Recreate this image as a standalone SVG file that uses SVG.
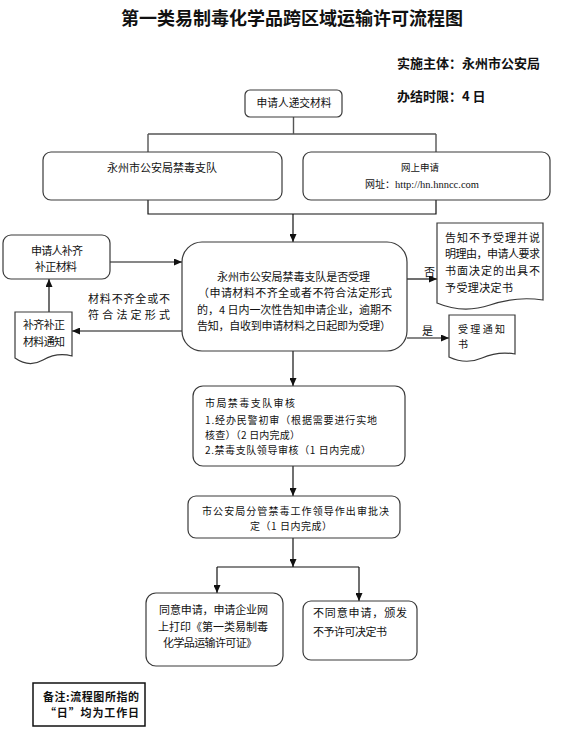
<svg xmlns="http://www.w3.org/2000/svg" width="574" height="746" viewBox="0 0 574 746">
<style>
.bg{fill:#fff}
.box{fill:#fff;stroke:#3a3a3a;stroke-width:1.2}
.doc{fill:#fff;stroke:#3a3a3a;stroke-width:1.2}
.ln{fill:none;stroke:#111;stroke-width:1.2}
.gl{fill:none;stroke:#555;stroke-width:1.4}
text{font-family:"Noto Sans CJK SC","Liberation Sans",sans-serif;fill:#111}
.t{font-size:11px}
.s{font-size:10px}
.c{text-anchor:middle}
.b{font-weight:bold}
.title{font-size:18px;font-weight:bold;text-anchor:middle}
.hd{font-size:13px;font-weight:bold}
.url{font-family:"Liberation Serif",serif}
</style>
<defs>
<marker id="ah" markerUnits="userSpaceOnUse" markerWidth="8" markerHeight="7" refX="8" refY="3.5" orient="auto">
<path d="M0,0 L8,3.5 L0,7 Z" fill="#111"/>
</marker>
</defs>
<rect class="bg" x="0" y="0" width="574" height="746"/>
<text class="title" x="292" y="25">第一类易制毒化学品跨区域运输许可流程图</text>
<text class="hd" x="397" y="68">实施主体：永州市公安局</text>
<text class="hd" x="397" y="101">办结时限：4 日</text>

<g id="connectors">
<path class="gl" d="M293.5 117 V134 M148 134 H436 M148 134 V152 M436 134 V152"/>
<path class="ln" d="M148 200 V214 H436 V200"/>
<path class="ln" d="M293 214 V242" marker-end="url(#ah)"/>
<path class="ln" d="M110 262 H182" marker-end="url(#ah)"/>
<path class="ln" d="M182 331 H72" marker-end="url(#ah)"/>
<path class="ln" d="M49 312 V279" marker-end="url(#ah)"/>
<path class="ln" d="M407 279 H437" marker-end="url(#ah)"/>
<path class="ln" d="M407 338 H449" marker-end="url(#ah)"/>
<path class="ln" d="M293 351 V386" marker-end="url(#ah)"/>
<path class="ln" d="M293 466 V496" marker-end="url(#ah)"/>
<path class="ln" d="M293 538 V567" marker-end="url(#ah)"/>
<path class="ln" d="M217 567 H359"/>
<path class="ln" d="M217 567 V593" marker-end="url(#ah)"/>
<path class="ln" d="M359 567 V601" marker-end="url(#ah)"/>
<text class="t" x="88" y="303" textLength="82" lengthAdjust="spacing">材料不齐全或不</text>
<text class="t" x="88" y="319" textLength="82" lengthAdjust="spacing">符合法定形式</text>
<text class="t" x="424" y="276">否</text>
<text class="t" x="422" y="335">是</text>
</g>

<g id="n-submit">
<rect class="box" x="245" y="90" width="97" height="27" rx="5"/>
<text class="t c" x="294" y="107" textLength="75" lengthAdjust="spacingAndGlyphs">申请人递交材料</text>
</g>

<g id="n-bureau">
<rect class="box" x="43" y="152" width="239" height="48" rx="8"/>
<text class="t c" x="162" y="172" textLength="110" lengthAdjust="spacing">永州市公安局禁毒支队</text>
</g>

<g id="n-online">
<rect class="box" x="303" y="152" width="247" height="48" rx="8"/>
<text class="c" x="420" y="171" font-size="9.5">网上申请</text>
<text x="365" y="188" font-size="10">网址：<tspan class="url" font-size="10.5">http://hn.hnncc.com</tspan></text>
</g>

<g id="n-decision">
<rect class="box" x="182" y="242" width="225" height="109" rx="20"/>
<text class="t" x="217" y="281" textLength="153" lengthAdjust="spacing">永州市公安局禁毒支队是否受理</text>
<text class="t" x="198" y="297" textLength="194" lengthAdjust="spacing">（申请材料不齐全或者不符合法定形式</text>
<text class="t" x="197" y="314" textLength="195" lengthAdjust="spacing">的，4 日内一次性告知申请企业，逾期不</text>
<text class="t" x="197" y="330" textLength="194" lengthAdjust="spacing">告知，自收到申请材料之日起即为受理）</text>
</g>

<g id="n-resupply">
<rect class="box" x="3" y="235" width="107" height="44" rx="8"/>
<text class="t c" x="57" y="255" textLength="52" lengthAdjust="spacing">申请人补齐</text>
<text class="t c" x="56" y="271" textLength="42" lengthAdjust="spacing">补正材料</text>
</g>

<g id="n-notice-supply">
<path class="doc" d="M15 312 H72 V356 Q57 352 43 360 Q29 368 15 358 Z"/>
<text class="t c" x="44" y="329" textLength="42" lengthAdjust="spacing">补齐补正</text>
<text class="t c" x="44" y="346" textLength="42" lengthAdjust="spacing">材料通知</text>
</g>

<g id="n-reject-notice">
<path class="doc" d="M437 223 H543 V300 Q516 296 490 305 Q463 314 437 303 Z"/>
<text class="t" x="445" y="242" textLength="95" lengthAdjust="spacing">告知不予受理并说</text>
<text class="t" x="445" y="258" textLength="95" lengthAdjust="spacing">明理由，申请人要求</text>
<text class="t" x="445" y="275" textLength="95" lengthAdjust="spacing">书面决定的出具不</text>
<text class="t" x="445" y="292" textLength="68" lengthAdjust="spacing">予受理决定书</text>
</g>

<g id="n-accept-notice">
<path class="doc" d="M449 315 H515 V354 Q498 351 482 358 Q466 365 449 357 Z"/>
<text class="s" x="458" y="333" textLength="47" lengthAdjust="spacing">受理通知</text>
<text class="s" x="458" y="348">书</text>
</g>

<g id="n-review">
<rect class="box" x="193" y="386" width="212" height="80" rx="10"/>
<text class="s" x="205" y="407" textLength="90" lengthAdjust="spacing">市局禁毒支队审核</text>
<text class="s" x="205" y="424" textLength="172" lengthAdjust="spacing">1.经办民警初审（根据需要进行实地</text>
<text class="s" x="205" y="439" textLength="95" lengthAdjust="spacing">核查）（2 日内完成）</text>
<text class="s" x="205" y="454" textLength="166" lengthAdjust="spacing">2.禁毒支队领导审核（1 日内完成）</text>
</g>

<g id="n-approve">
<rect class="box" x="188" y="496" width="212" height="42" rx="8"/>
<text class="s" x="202" y="515" textLength="187" lengthAdjust="spacing">市公安局分管禁毒工作领导作出审批决</text>
<text class="s" x="250" y="530" textLength="82" lengthAdjust="spacing">定（1 日内完成）</text>
</g>

<g id="n-agree">
<rect class="box" x="146" y="593" width="137" height="73" rx="10"/>
<text class="t" x="159" y="614" textLength="109" lengthAdjust="spacing">同意申请，申请企业网</text>
<text class="t" x="158" y="631" textLength="110" lengthAdjust="spacing">上打印《第一类易制毒</text>
<text class="t" x="163" y="647" textLength="94" lengthAdjust="spacing">化学品运输许可证》</text>
</g>

<g id="n-disagree">
<rect class="box" x="303" y="601" width="114" height="59" rx="8"/>
<text class="t" x="313" y="617" textLength="94" lengthAdjust="spacing">不同意申请，颁发</text>
<text class="t" x="313" y="636" textLength="74" lengthAdjust="spacing">不予许可决定书</text>
</g>

<g id="n-note">
<rect x="33" y="683" width="112" height="43" fill="#fff" stroke="#111" stroke-width="1.5"/>
<text class="t b" x="43" y="701" textLength="96" lengthAdjust="spacing">备注:流程图所指的</text>
<text class="t b" x="45" y="717" textLength="94" lengthAdjust="spacing">“日”均为工作日</text>
</g>
</svg>
